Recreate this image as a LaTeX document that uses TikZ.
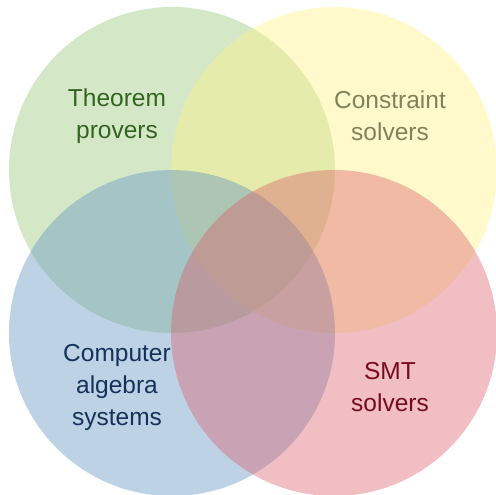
\documentclass[tikz,border=0pt]{standalone}
\usepackage{fontspec}
\setmainfont{Liberation Sans}
\definecolor{cgreen}{RGB}{148,198,118}
\definecolor{cyellow}{RGB}{255,240,127}
\definecolor{cblue}{RGB}{92,142,192}
\definecolor{cred}{RGB}{218,92,105}
\definecolor{tgreen}{RGB}{50,100,30}
\definecolor{tyellow}{RGB}{130,130,90}
\definecolor{tblue}{RGB}{20,50,90}
\definecolor{tred}{RGB}{120,10,30}
\begin{document}
\begin{tikzpicture}[x=1pt,y=-1pt,
  setcircle/.style={circle,minimum size=326pt,inner sep=0pt,fill opacity=0.4,draw=none},
  label/.style={align=center,font=\fontsize{24.5pt}{32pt}\selectfont}]
\useasboundingbox (0,0) rectangle (496,495);
\node[setcircle,fill=cgreen] (green) at (172,170) {};
\node[setcircle,fill=cyellow] (yellow) at (334,170) {};
\node[setcircle,fill=cblue] (blue) at (172,333) {};
\node[setcircle,fill=cred] (red) at (334,333) {};
\node[label,text=tgreen] (tp) at (117,116) {Theorem\\provers};
\node[label,text=tyellow] (cs) at (390,116) {Constraint\\solvers};
\node[label,text=tblue] (cas) at (117,387) {Computer\\algebra\\systems};
\node[label,text=tred] (smt) at (390,387) {SMT\\solvers};
\end{tikzpicture}
\end{document}
